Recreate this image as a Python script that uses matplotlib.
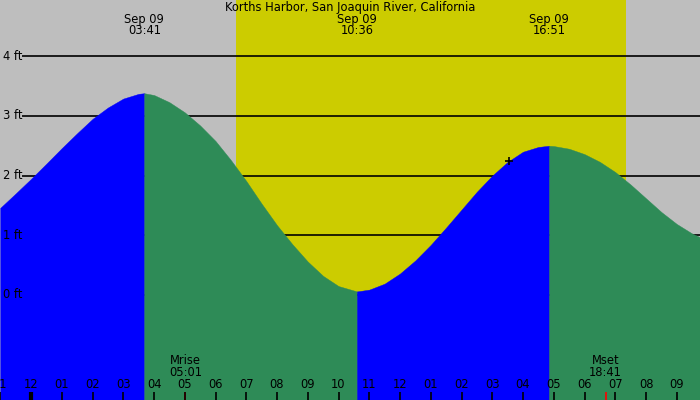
import numpy as np
import matplotlib
matplotlib.use("Agg")
import matplotlib.pyplot as plt

title = "Korths Harbor, San Joaquin River, California"

# tide heights (ft), hours from Sep 09 00:00
hours = [-1.0, -0.5, 0.0, 0.5, 1.0, 1.5, 2.0, 2.5, 3.0, 3.5, 3 + 41/60,
         4.0, 4.5, 5.0, 5.5, 6.0, 6.5, 7.0, 7.5, 8.0, 8.5, 9.0, 9.5, 10.0, 10 + 36/60,
         11.0, 11.5, 12.0, 12.5, 13.0, 13.5, 14.0, 14.5, 15.0, 15.5, 16.0, 16.5, 16 + 51/60,
         17.0, 17.5, 18.0, 18.5, 19.0, 19.5, 20.0, 20.5, 21.0, 21.5, 22.0]
heights = [1.46, 1.70, 1.945, 2.20, 2.46, 2.71, 2.95, 3.14, 3.29, 3.37, 3.38,
           3.35, 3.23, 3.06, 2.84, 2.58, 2.26, 1.91, 1.53, 1.17, 0.85, 0.56, 0.32, 0.15, 0.06,
           0.09, 0.19, 0.36, 0.58, 0.84, 1.13, 1.43, 1.73, 2.00, 2.23, 2.40, 2.48, 2.50,
           2.495, 2.45, 2.36, 2.23, 2.06, 1.85, 1.62, 1.39, 1.19, 1.03, 0.91]

# high / low tide events
event_hours = [3 + 41/60, 10 + 36/60, 16 + 51/60]
event_labels = ["03:41", "10:36", "16:51"]
event_date = "Sep 09"

sunrise = 6 + 40/60
sunset = 19 + 21/60
moon_hours = [5 + 1/60, 18 + 41/60]
moon_names = ["Mrise", "Mset"]
moon_labels = ["05:01", "18:41"]

now_hour, now_height = 15.55, 2.25

ft_levels = [0, 1, 2, 3, 4]
tick_hours = list(range(-1, 22))

# pixel layout of the original: midnight at x=31, 30.75 px/h; 0 ft at y=295, 59.7 px/ft
W, H = 700, 400
x0, pxh = 31.0, 30.75
y0, pxf = 295.0, 59.7
xlim = (-x0 / pxh, (W - x0) / pxh)
ylim = (-(H - y0) / pxf, y0 / pxf)
FS = 8.3

fig = plt.figure(figsize=(7, 4), dpi=100)
fig.patch.set_facecolor("#bebebe")
ax = fig.add_axes([0, 0, 1, 1])
ax.set_xlim(*xlim)
ax.set_ylim(*ylim)
ax.axis("off")

# daylight
ax.axvspan(sunrise, sunset, color="#cccc00", lw=0, zorder=1)

for lv in ft_levels:
    ax.hlines(lv, 22 / W, 1, transform=ax.get_yaxis_transform(), color="black", lw=1.2, zorder=1.5)
    ax.text(3 / W, lv, "%d ft" % lv, transform=ax.get_yaxis_transform(),
            ha="left", va="center", fontsize=FS, zorder=5)

# rising tide blue, falling tide green
t = np.array(hours)
hgt = np.array(heights)
bounds = [t[0]] + event_hours + [t[-1]]
colors = ["#0000ff", "#2e8b57", "#0000ff", "#2e8b57"]
for i, c in enumerate(colors):
    m = (t >= bounds[i] - 1e-6) & (t <= bounds[i + 1] + 1e-6)
    ax.fill_between(t[m], ylim[0], hgt[m], color=c, lw=0.3, zorder=3)

ax.plot(now_hour, now_height, marker="+", color="black", ms=6, mew=1.2, zorder=6)

fig_y = lambda py: 1 - py / H
xt = ax.get_xaxis_transform()

ax.text(0.5, fig_y(7), title, transform=ax.transAxes, ha="center", va="center", fontsize=FS, zorder=6)
for eh, lab in zip(event_hours, event_labels):
    ax.text(eh, fig_y(19), event_date, transform=xt, ha="center", va="center", fontsize=FS, zorder=6)
    ax.text(eh, fig_y(31), lab, transform=xt, ha="center", va="center", fontsize=FS, zorder=6)

for mh, name, lab in zip(moon_hours, moon_names, moon_labels):
    ax.text(mh, fig_y(361), name, transform=xt, ha="center", va="center", fontsize=FS, zorder=6)
    ax.text(mh, fig_y(373), lab, transform=xt, ha="center", va="center", fontsize=FS, zorder=6)
    ax.vlines(mh, 0, 8 / H, transform=xt, color="red", lw=1.2, zorder=6)

for th in tick_hours:
    lab = "%02d" % ((th - 1) % 12 + 1)
    ax.text(th, fig_y(385), lab, transform=xt, ha="center", va="center", fontsize=FS, zorder=6)
    ax.vlines(th, 0, 8 / H, transform=xt, color="black", lw=3 if th % 24 == 0 else 1.2, zorder=6)

fig.savefig("out.png", dpi=100, facecolor=fig.get_facecolor())
